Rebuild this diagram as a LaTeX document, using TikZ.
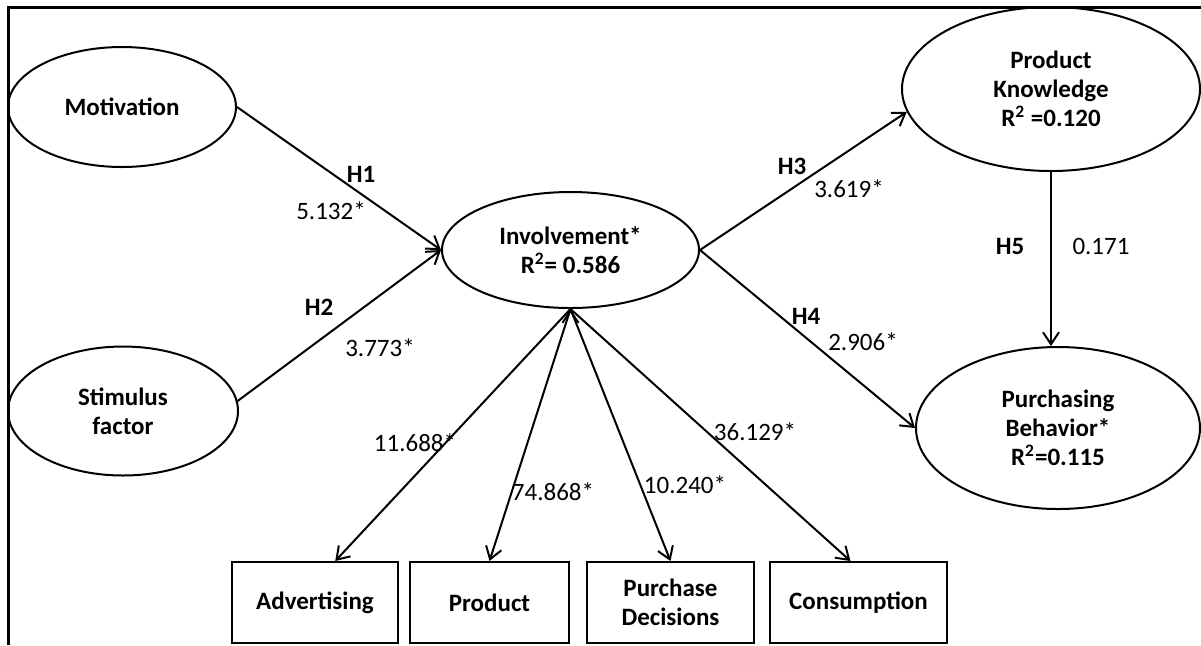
\documentclass[tikz,border=0pt]{standalone}
\usepackage{fontspec}
\setmainfont{Carlito}
\usepackage{tikz}
\usetikzlibrary{shapes,positioning,arrows.meta}

\newcommand{\figsize}{\fontsize{12.5}{14.5}\selectfont}

\begin{document}
\begin{tikzpicture}[x=0.5pt,y=-0.5pt,font=\figsize,line width=1pt,
		latent/.style={draw,ellipse,align=center,inner sep=0pt,font=\figsize\bfseries},
		indicator/.style={draw,rectangle,align=center,minimum height=40.5pt,font=\figsize\bfseries},
		hyp/.style={font=\figsize\bfseries},
		arr/.style={-{Straight Barb[length=6pt,width=8pt]}}]

		\useasboundingbox (0,0) rectangle (1201,645);
		\draw[line width=1.5pt] (8,645) -- (8,7) -- (1201,7);

		\node[latent,
			minimum width=114pt,
			minimum height=60pt] (mot) at (122,107) {Motivation};

		\node[latent,
			minimum width=115pt,
			minimum height=64.5pt] (stim) at (123,411) {Stimulus\\factor};

		\node[latent,
			minimum width=128.5pt,
			minimum height=58pt] (inv) at (570.5,250) {Involvement*\\R\textsuperscript{2}= 0.586};

		\node[latent,
			minimum width=149pt,
			minimum height=82pt] (pk) at (1051,89) {Product\\Knowledge\\R\textsuperscript{2} =0.120};

		\node[latent,
			minimum width=142pt,
			minimum height=81pt] (pb) at (1058,428) {Purchasing\\Behavior*\\R\textsuperscript{2}=0.115};

		\node[indicator,
			minimum width=83pt] (adv) at (315,602.5) {Advertising};

		\node[indicator,
			right=5pt of adv,
			minimum width=79.5pt] (prod) {Product};

		\node[indicator,
			right=8pt of prod,
			minimum width=83.5pt] (pd) {Purchase\\Decisions};

		\node[indicator,
			right=7pt of pd,
			minimum width=88.5pt] (cons) {Consumption};

		% path labels
		\node[hyp] (h1) at (361,174) {H1};
		\node (v1) at (331,211) {5.132*};
		\node[hyp] (h2) at (319,307) {H2};
		\node (v2) at (380,348) {3.773*};
		\node[hyp] (h3) at (792,166) {H3};
		\node (v3) at (849,189) {3.619*};
		\node[hyp] (h4) at (806,316) {H4};
		\node (v4) at (863,342) {2.906*};
		\node[hyp] (h5) at (1010,246) {H5};
		\node (v5) at (1101,246) {0.171};
		\node (l1) at (415,443) {11.688*};
		\node (l2) at (553,492) {74.868*};
		\node (l3) at (685,485) {10.240*};
		\node (l4) at (755,432) {36.129*};

		\draw[arr] (mot.east) edge (inv.west)
		(stim.5) edge (inv.west)
		(inv.east) edge (pk.189)
		(inv.east) edge (pb.west)
		(pk.south) edge (pk.south |- pb.north)
		(inv.south) edge (adv.64)
		(inv.south) edge (prod.north)
		(inv.south) edge (pd.north)
		(inv.south) edge (cons.101);

	\end{tikzpicture}
\end{document}
